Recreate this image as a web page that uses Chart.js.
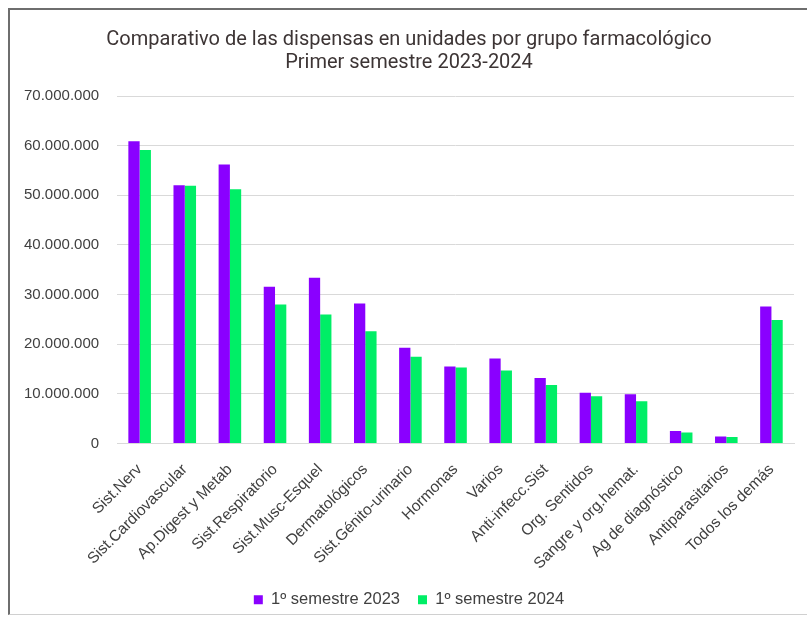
<!DOCTYPE html>
<html>
<head>
<meta charset="utf-8">
<script src="https://cdn.jsdelivr.net/npm/chart.js"></script>
<style>
    body { margin: 0; background: #ffffff; }
    #box {
        position: absolute; left: 8px; top: 8px; width: 799px; height: 607px;
        border-top: 2px solid #6e6e6e; border-left: 2px solid #6e6e6e;
        border-bottom: 1px solid #d0d0d0; box-sizing: border-box; background: #fff;
    }
</style>
</head>
<body>
<div id="box"><canvas id="myChart"></canvas></div>
<script>
// categories and values
const categories = ['Sist.Nerv', 'Sist.Cardiovascular', 'Ap.Digest y Metab', 'Sist.Respiratorio',
    'Sist.Musc-Esquel', 'Dermatológicos', 'Sist.Génito-urinario', 'Hormonas', 'Varios',
    'Anti-infecc.Sist', 'Org. Sentidos', 'Sangre y org.hemat.', 'Ag de diagnóstico',
    'Antiparasitarios', 'Todos los demás'];
const sem2023 = [60900000, 52000000, 56200000, 31600000, 33400000, 28200000, 19300000,
    15500000, 17100000, 13200000, 10200000, 9900000, 2500000, 1400000, 27600000];
const sem2024 = [59100000, 51900000, 51200000, 28000000, 26000000, 22600000, 17500000,
    15300000, 14700000, 11800000, 9500000, 8500000, 2200000, 1300000, 24900000];
const yTicks = [0, 10000000, 20000000, 30000000, 40000000, 50000000, 60000000, 70000000];

function fmt(v) {
    return String(v).replace(/\B(?=(\d{3})+(?!\d))/g, '.');
}

document.addEventListener('DOMContentLoaded', function() {
    var ctx = document.getElementById('myChart').getContext('2d');
    Chart.defaults.font.family = '"Liberation Sans", Arial, sans-serif';
    Chart.defaults.color = '#404040';

    new Chart(ctx, {
        type: 'bar',
        data: {
            labels: categories,
            datasets: [{
                label: '1º semestre 2023',
                data: sem2023,
                backgroundColor: '#8a00ff',
                borderWidth: 0
            }, {
                label: '1º semestre 2024',
                data: sem2024,
                backgroundColor: '#00ee66',
                borderWidth: 0
            }]
        },
        options: {
            responsive: true,
            maintainAspectRatio: false,
            animation: false,
            datasets: {
                bar: { categoryPercentage: 0.5, barPercentage: 1.0 }
            },
            plugins: {
                title: {
                    display: true,
                    text: ['Comparativo de las dispensas en unidades por grupo farmacológico', 'Primer semestre 2023-2024'],
                    color: '#3d3535',
                    font: { family: 'Roboto', size: 20, weight: 'normal', lineHeight: 1.15 },
                    padding: { top: 18, bottom: 22 }
                },
                legend: {
                    position: 'bottom',
                    labels: {
                        boxWidth: 9,
                        boxHeight: 9,
                        font: { size: 16.5 },
                        padding: 18
                    }
                },
                tooltip: { enabled: false }
            },
            scales: {
                x: {
                    grid: { display: false },
                    border: { color: '#d9d9d9' },
                    afterFit: function(axis) {
                        axis.paddingLeft = 0;
                        axis.paddingRight = 0;
                        axis.height = 130; // room for the slanted labels
                    },
                    ticks: {
                        maxRotation: 45,
                        minRotation: 45,
                        autoSkip: false,
                        font: { size: 15.5 },
                        padding: 9
                    }
                },
                y: {
                    min: 0,
                    max: 70000000,
                    afterBuildTicks: function(axis) {
                        axis.ticks = yTicks.map(v => ({ value: v }));
                    },
                    afterFit: function(axis) {
                        axis.width -= 18; // padding is counted twice otherwise
                    },
                    grid: { color: '#d9d9d9', drawTicks: false },
                    border: { display: false },
                    ticks: {
                        font: { size: 15 },
                        padding: 18,
                        callback: v => fmt(v)
                    }
                }
            },
            layout: {
                padding: { top: 0, bottom: -4, left: 14, right: 13 }
            }
        }
    });
});
</script>
</body>
</html>
